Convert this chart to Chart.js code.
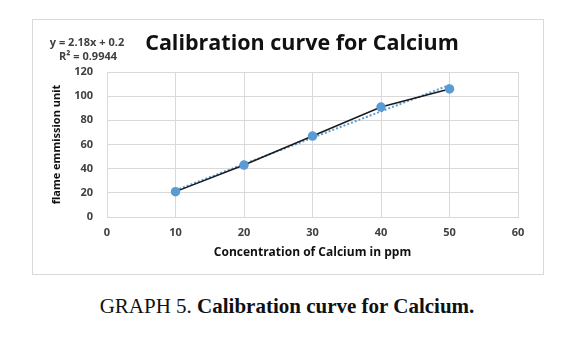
<!DOCTYPE html>
<html>
<head>
<meta charset="utf-8">
<script src="https://cdn.jsdelivr.net/npm/chart.js@4.4.1/dist/chart.umd.min.js"></script>
<style>
  html, body { margin: 0; padding: 0; background: #fff; }
  body { width: 574px; height: 342px; position: relative; overflow: hidden; }
  #frame {
    position: absolute; left: 32px; top: 19px;
    width: 510px; height: 254px;
    border: 1px solid #d9d9d9;
  }
  #caption {
    position: absolute; left: 0; top: 294px; width: 574px;
    text-align: center;
    font-family: "Liberation Serif", "Times New Roman", serif;
    font-size: 21px; color: #111;
  }
</style>
</head>
<body>
<div id="frame"><canvas id="myChart" width="510" height="254"></canvas></div>
<div id="caption">GRAPH 5. <b>Calibration curve for Calcium.</b></div>
<script>
const concentration = [10, 20, 30, 40, 50];
const emission = [21, 43, 67, 91, 106];
const xTicks = [0, 10, 20, 30, 40, 50, 60];
const yTicks = [0, 20, 40, 60, 80, 100, 120];

// linear fit shown on the chart
const slope = 2.18;
const intercept = 0.2;
const rSquared = 0.9944;
const trendX = [10, 50];

const blue = '#5b9bd5';
const gridGrey = '#d9d9d9';
const textGrey = '#404040';

// title and trendline equation drawn straight onto the canvas
const chartText = {
    id: 'chartText',
    afterDraw(chart) {
        const ctx = chart.ctx;
        ctx.save();
        ctx.fillStyle = '#111';
        ctx.textAlign = 'center';
        ctx.textBaseline = 'middle';
        ctx.font = 'bold 21.5px "Open Sans"';
        ctx.fillText('Calibration curve for Calcium', 269, 24);

        ctx.fillStyle = textGrey;
        ctx.font = 'bold 11px "Open Sans"';
        ctx.fillText('y = ' + slope + 'x + ' + intercept, 54, 23);
        ctx.fillText('R\u00b2 = ' + rSquared, 55, 37);
        ctx.restore();
    }
};

const ctx = document.getElementById('myChart').getContext('2d');

new Chart(ctx, {
    type: 'scatter',
    data: {
        datasets: [{
            label: 'Calcium',
            data: concentration.map((x, i) => ({ x: x, y: emission[i] })),
            showLine: true,
            borderColor: '#1a1a1a',
            borderWidth: 1.5,
            pointBackgroundColor: blue,
            pointBorderColor: blue,
            pointRadius: 4,
            order: 1
        }, {
            label: 'Linear (Calcium)',
            data: trendX.map(x => ({ x: x, y: slope * x + intercept })),
            showLine: true,
            borderColor: blue,
            borderWidth: 2,
            borderDash: [2, 2],
            pointRadius: 0,
            order: 2
        }]
    },
    options: {
        responsive: false,
        animation: false,
        layout: {
            padding: { left: 0, right: 25, top: 52, bottom: 0 }
        },
        plugins: {
            legend: { display: false },
            tooltip: { enabled: false }
        },
        scales: {
            x: {
                type: 'linear',
                min: 0,
                max: 60,
                afterBuildTicks: scale => { scale.ticks = xTicks.map(v => ({ value: v })); },
                afterFit: scale => { scale.height = 57; },
                grid: { color: gridGrey, drawTicks: false },
                border: { color: gridGrey },
                ticks: {
                    padding: 9,
                    color: textGrey,
                    font: { family: 'Open Sans', size: 11, weight: 'bold' }
                },
                title: {
                    display: true,
                    text: 'Concentration of Calcium in ppm',
                    color: '#111',
                    padding: { top: 0, bottom: 14 },
                    font: { family: 'Open Sans', size: 12, weight: 'bold' }
                }
            },
            y: {
                min: 0,
                max: 120,
                afterBuildTicks: scale => { scale.ticks = yTicks.map(v => ({ value: v })); },
                afterFit: scale => { scale.width = 74; },
                grid: { color: gridGrey, drawTicks: false },
                border: { color: gridGrey },
                ticks: {
                    padding: 14,
                    color: textGrey,
                    font: { family: 'Open Sans', size: 11, weight: 'bold' }
                },
                title: {
                    display: true,
                    text: 'flame emmission unit',
                    color: '#111',
                    padding: { top: 17, bottom: 0 },
                    font: { family: 'Open Sans', size: 11, weight: 'bold' }
                }
            }
        }
    },
    plugins: [chartText]
});
</script>
</body>
</html>
